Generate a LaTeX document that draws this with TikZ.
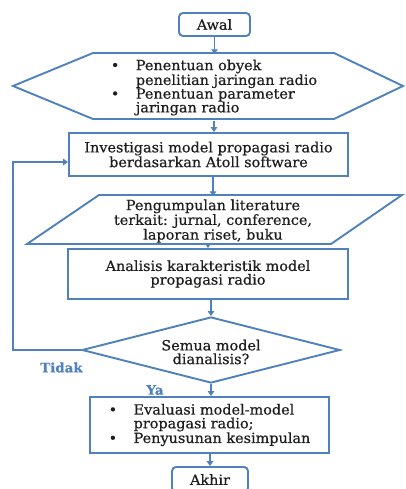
\documentclass[tikz,border=0pt]{standalone}
\usepackage{fontspec}
\setmainfont{DejaVu Serif}[FakeStretch=1.03,FakeBold=0.6]
\usetikzlibrary{arrows.meta,shapes.geometric,calc}
\definecolor{lineblue}{RGB}{79,129,189}
\definecolor{txt}{RGB}{30,30,30}
\newcommand{\bul}{\makebox[25pt][l]{\textbullet}}
\newcommand{\ind}{\hspace*{25pt}}
\begin{document}
\begin{tikzpicture}[x=1pt,y=-1pt,
  every node/.style={font=\fontsize{14}{13.7}\selectfont, text=txt, inner sep=0pt},
  outline/.style={draw=lineblue, line width=1.9pt},
  procbox/.style={outline, rectangle, align=center},
  termbox/.style={outline, rectangle, rounded corners=4pt, align=center},
  ghost/.style={rectangle, align=center},
  arr/.style={draw=lineblue, line width=1.9pt, -{Triangle[length=5pt,width=6.5pt]}},
  lbl/.style={font=\fontsize{13}{13}\selectfont\bfseries, text=lineblue}
]
\useasboundingbox (0,0) rectangle (405,489);

% Start
\node[termbox, minimum width=71, minimum height=23] (awal) at (214.5,24.5) {Awal};

% Hexagon
\draw[outline] (13,86) -- (93,53) -- (334,53) -- (403,86) -- (334,119) -- (93,119) -- cycle;
\node[ghost, minimum width=241, minimum height=66, align=left] (hex) at (214,87.5)
  {\bul Penentuan obyek\\ \ind penelitian jaringan radio\\ \bul Penentuan parameter\\ \ind jaringan radio};

% Investigasi
\node[procbox, minimum width=279, minimum height=43] (inv) at (208.5,154.5)
  {Investigasi model propagasi radio\\ berdasarkan Atoll software};

% Parallelogram
\draw[outline] (99,195) -- (402,195) -- (331,244) -- (27,244) -- cycle;
\node[ghost, minimum width=200, minimum height=49] (para) at (213,221)
  {Pengumpulan literature\\ terkait: jurnal, conference,\\ laporan riset, buku};

% Analisis
\node[procbox, minimum width=280, minimum height=50] (ana) at (208,274)
  {Analisis karakteristik model\\ propagasi radio};

% Decision
\node[outline, diamond, minimum width=258, minimum height=66] (dia) at (211,350) {};
\node[align=center] (diatext) at (211,352) {Semua model\\ dianalisis?};

% Evaluasi
\node[procbox, align=left, minimum width=239, minimum height=56] (eva) at (209.5,425)
  {\bul Evaluasi model-model\\ \ind propagasi radio;\\ \bul Penyusunan kesimpulan};

% End
\node[termbox, minimum width=76, minimum height=25] (akhir) at (210,479.5) {Akhir};

% Labels
\node[lbl] (tidak) at (61.5,367.5) {Tidak};
\node[lbl] (ya) at (155,390) {Ya};

% Connectors
\draw[arr] (awal.south) -- (awal.south |- hex.north);
\draw[arr] (hex.south) -- (hex.south |- inv.north);
\draw[arr] (para.north |- inv.south) -- (para.north);
\draw[arr] (ana.north |- para.south) -- (ana.north);
\draw[arr] (dia.north |- ana.south) -- (dia.north);
\draw[arr] (dia.south) -- (dia.south |- eva.north);
\draw[arr] (akhir.north |- eva.south) -- (akhir.north);
\coordinate (loop) at (13,162);
\draw[arr] (dia.west) -| (loop) -- (loop -| inv.west);
\end{tikzpicture}
\end{document}
